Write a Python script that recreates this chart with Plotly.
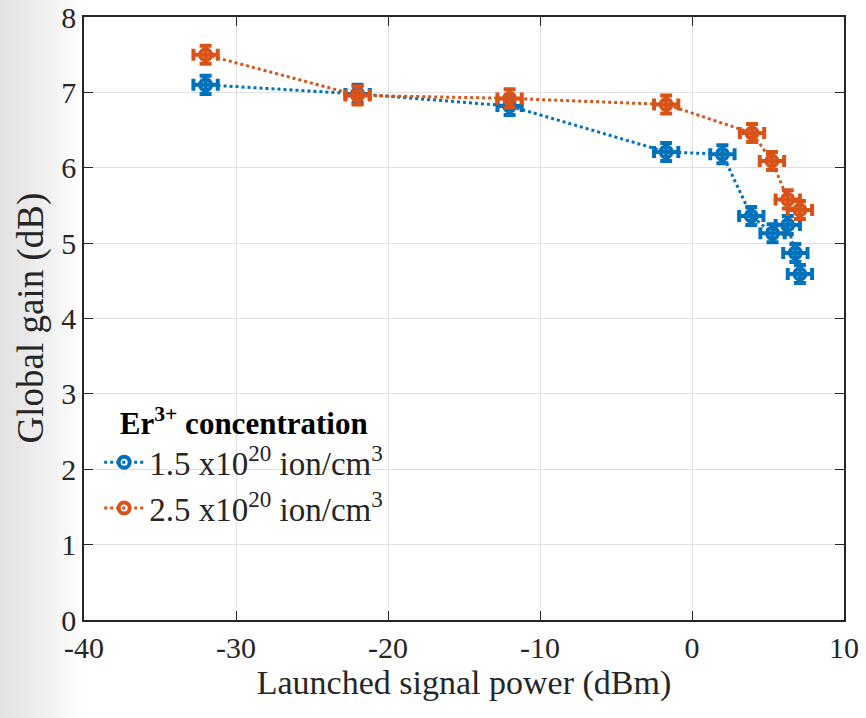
import plotly.graph_objects as go

# Data
x_low = [-32, -22, -12, -1.7, 2.0, 3.9, 5.3, 6.3, 6.8, 7.1]
y_low = [7.10, 6.98, 6.82, 6.21, 6.18, 5.36, 5.13, 5.24, 4.87, 4.59]
x_high = [-32, -22, -12, -1.7, 3.95, 5.26, 6.3, 7.1]
y_high = [7.50, 6.96, 6.92, 6.84, 6.46, 6.09, 5.58, 5.44]
x_err = 0.8
y_err = 0.12

names = ["1.5 x10<sup>20</sup> ion/cm<sup>3</sup>", "2.5 x10<sup>20</sup> ion/cm<sup>3</sup>"]
colors = ["#0072BD", "#D95319"]
x_ticks = [-40, -30, -20, -10, 0, 10]
x_tick_text = ["-40", "-30", "-20", "-10", "0", "10"]
y_ticks = [0, 1, 2, 3, 4, 5, 6, 7, 8]

FONT = "Liberation Serif, Times New Roman, serif"

fig = go.Figure()
for xs, ys, name, col in [(x_low, y_low, names[0], colors[0]), (x_high, y_high, names[1], colors[1])]:
    fig.add_trace(go.Scatter(
        x=xs, y=ys, name=name, mode="lines+markers",
        line=dict(color=col, width=3, dash="dot"),
        marker=dict(symbol="circle-open", size=11, color=col, line=dict(width=4, color=col)),
        error_x=dict(type="constant", value=x_err, color=col, thickness=4, width=6),
        error_y=dict(type="constant", value=y_err, color=col, thickness=4, width=6),
    ))

# light grey textured background strip on the left edge
shapes = []
n = 20
for i in range(n):
    x0 = -84 / 760 + i * (82 / 760) / n
    x1 = x0 + (82 / 760) / n + 0.001
    g = int(226 + (254 - 226) * (i / (n - 1)) ** 1.1)
    shapes.append(dict(type="rect", xref="paper", yref="paper", x0=x0, x1=x1,
                       y0=-98 / 603, y1=1 + 17 / 603, line=dict(width=0),
                       fillcolor=f"rgb({g},{g},{g})", layer="below"))

fig.update_layout(
    width=866, height=718,
    margin=dict(l=84, r=22, t=17, b=98, autoexpand=False),
    paper_bgcolor="white", plot_bgcolor="white",
    font=dict(family=FONT, size=30, color="#262626"),
    shapes=shapes,
    showlegend=True,
    legend=dict(
        x=0.02, y=0.375, xanchor="left", yanchor="top",
        bgcolor="rgba(0,0,0,0)", borderwidth=0,
        title=dict(text="<b>Er<sup>3+</sup> concentration</b>", side="top center",
                   font=dict(size=31, family=FONT, color="black")),
        font=dict(size=33, family=FONT, color="#262626"),
        itemwidth=40, tracegroupgap=0,
    ),
    annotations=[dict(
        text="Global gain (dB)", xref="paper", yref="paper", x=(30 - 84) / 760, y=0.5,
        xanchor="center", yanchor="middle", textangle=-90, showarrow=False,
        font=dict(size=37, family=FONT, color="#262626"),
    )],
    xaxis=dict(
        range=[-40, 10], tickvals=x_ticks, ticktext=x_tick_text, showgrid=True,
        gridcolor="#e0e0e0", gridwidth=1, automargin=False,
        showline=True, linecolor="#262626", linewidth=1.5, mirror="ticks",
        ticks="inside", ticklen=9, tickcolor="#262626", zeroline=False,
        title=dict(text="Launched signal power (dBm)", font=dict(size=34), standoff=6),
        tickfont=dict(size=30),
    ),
    yaxis=dict(
        range=[0, 8], tickvals=y_ticks, showgrid=True, gridcolor="#e0e0e0", gridwidth=1,
        automargin=False,
        showline=True, linecolor="#262626", linewidth=1.5, mirror="ticks",
        ticks="inside", ticklen=9, tickcolor="#262626", zeroline=False,
        tickfont=dict(size=30),
    ),
)

fig.write_html("out.html", config={"displayModeBar": False},
               post_script="document.body.style.margin='0px';")
